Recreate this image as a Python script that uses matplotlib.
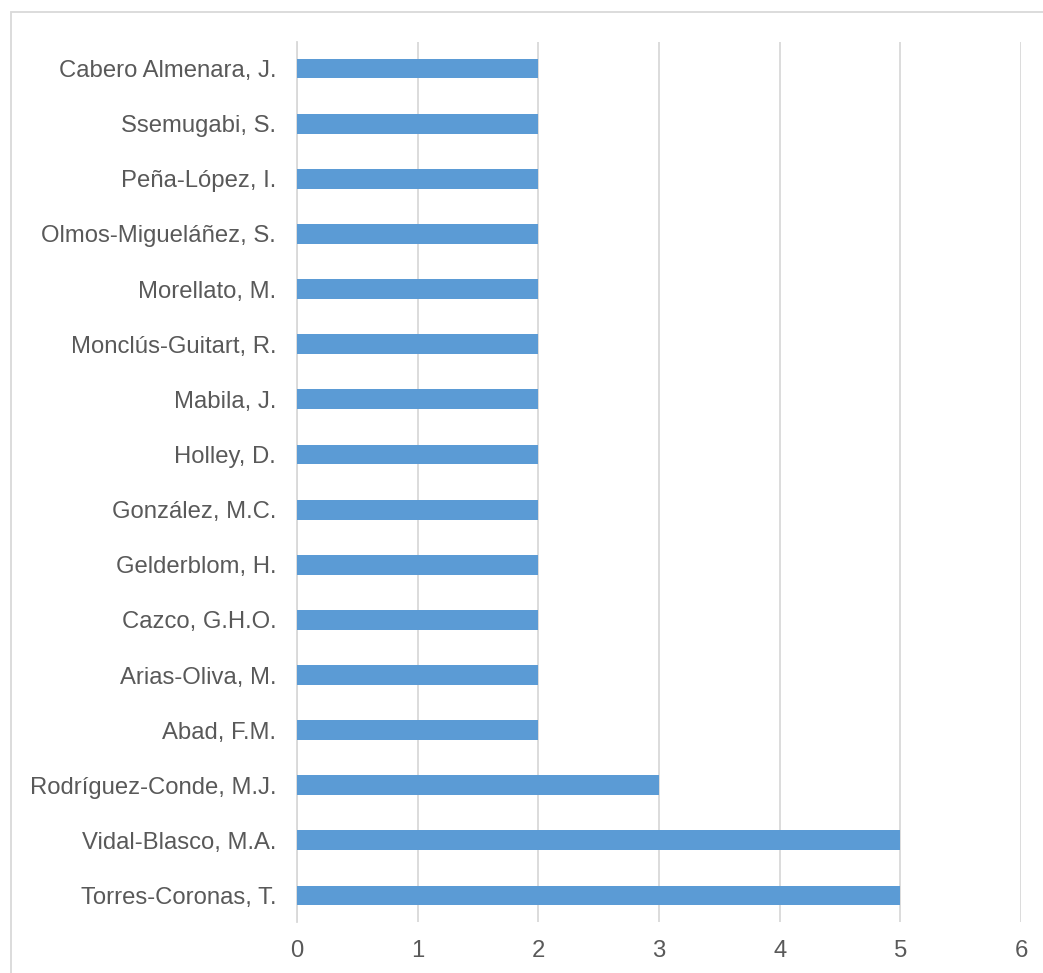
import matplotlib.pyplot as plt
from matplotlib.patches import Rectangle

# Dữ liệu: số bài báo theo tác giả (từ dưới lên trên)
authors = ["Torres-Coronas, T.", "Vidal-Blasco, M.A.", "Rodríguez-Conde, M.J.",
           "Abad, F.M.", "Arias-Oliva, M.", "Cazco, G.H.O.", "Gelderblom, H.",
           "González, M.C.", "Holley, D.", "Mabila, J.", "Monclús-Guitart, R.",
           "Morellato, M.", "Olmos-Migueláñez, S.", "Peña-López, I.",
           "Ssemugabi, S.", "Cabero Almenara, J."]
counts = [5, 5, 3, 2, 2, 2, 2, 2, 2, 2, 2, 2, 2, 2, 2, 2]
xticks = [0, 1, 2, 3, 4, 5, 6]

plt.rcParams['font.family'] = ['Liberation Sans', 'DejaVu Sans']

fig = plt.figure(figsize=(10.43, 9.73), dpi=100)
ax = fig.add_axes([0.2848, 0.0524, 0.9789 - 0.2848, 0.9568 - 0.0524])

ypos = list(range(len(authors)))
ax.barh(ypos, counts, height=0.36, color="#5B9BD5", zorder=3)

ax.set_xlim(0, 6)
ax.set_ylim(-0.48, 15.48)
ax.set_xticks(xticks)
ax.set_yticks(ypos)
ax.set_yticklabels(authors)
ax.grid(axis="x", color="#D9D9D9", linewidth=1.3, zorder=0)
ax.tick_params(axis="both", length=0, colors="#595959", labelsize=17.2)
ax.tick_params(axis="y", pad=15)
ax.tick_params(axis="x", pad=13)
for s in ["top", "right", "bottom"]:
    ax.spines[s].set_visible(False)
ax.spines["left"].set_color("#D9D9D9")
ax.spines["left"].set_linewidth(1.3)

# khung viền ngoài
fig.patches.append(Rectangle((11 / 1043, -0.05), 1.1, 1 - 12 / 973 + 0.05,
                             transform=fig.transFigure, fill=False,
                             edgecolor="#D9D9D9", linewidth=1.3))

fig.savefig("out.png", dpi=100)
